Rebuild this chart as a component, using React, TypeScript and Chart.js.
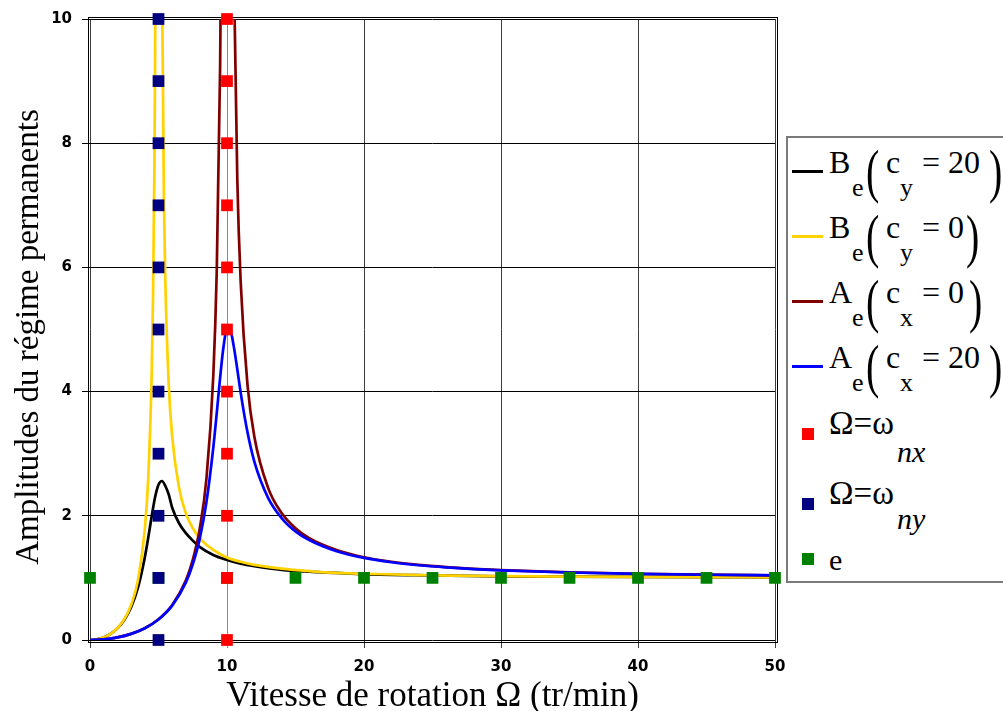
import React, { useEffect, useRef } from 'react';
import { Chart, registerables } from 'chart.js';

Chart.register(...registerables);

// ---- data ----
const xBe20 = [0, 0.5, 1, 1.5, 2, 2.5, 3, 3.5, 4, 4.25, 4.5, 4.75, 5, 5.25, 5.5, 5.75, 6, 6.5, 7, 7.5, 8, 9, 10, 11, 12, 14, 16, 18, 20, 25, 30, 35, 40, 45, 50];
const yBe20 = [0, 0.01, 0.042, 0.098, 0.187, 0.322, 0.527, 0.842, 1.33, 1.646, 1.99, 2.3, 2.5, 2.56, 2.48, 2.34, 2.13, 1.88, 1.72, 1.6, 1.5, 1.37, 1.29, 1.23, 1.19, 1.13, 1.1, 1.08, 1.06, 1.04, 1.026, 1.019, 1.015, 1.012, 1.009];

const xBe0 = [0, 0.5, 1, 1.5, 2, 2.5, 3, 3.5, 4, 4.25, 4.5, 4.6, 4.7, 4.75, 4.8, 5.2, 5.25, 5.4, 5.5, 5.75, 6, 6.5, 7, 7.5, 8, 9, 10, 11, 12, 14, 16, 18, 20, 25, 30, 35, 40, 45, 50];
const yBe0 = [0, 0.01, 0.042, 0.099, 0.19, 0.333, 0.563, 0.961, 1.78, 2.6, 4.26, 5.51, 7.59, 9.26, 11.8, 13.3, 10.8, 7.01, 5.76, 4.1, 3.27, 2.45, 2.04, 1.8, 1.64, 1.45, 1.33, 1.26, 1.21, 1.15, 1.11, 1.08, 1.067, 1.042, 1.029, 1.021, 1.016, 1.013, 1.01];

const xAe0 = [0, 1, 2, 3, 4, 5, 6, 7, 7.5, 8, 8.5, 9, 9.25, 9.5, 9.6, 10.4, 10.5, 10.75, 11, 11.5, 12, 13, 14, 15, 16, 18, 20, 22, 24, 26, 28, 30, 35, 40, 45, 50];
const yAe0 = [0, 0.01, 0.042, 0.099, 0.19, 0.333, 0.563, 0.961, 1.29, 1.78, 2.6, 4.26, 5.93, 9.26, 11.8, 13.3, 10.8, 7.43, 5.76, 4.1, 3.27, 2.45, 2.04, 1.8, 1.64, 1.45, 1.333, 1.26, 1.21, 1.174, 1.146, 1.125, 1.089, 1.067, 1.052, 1.042];

const xAe20 = [0, 1, 2, 3, 4, 5, 6, 7, 7.5, 8, 8.5, 9, 9.25, 9.5, 9.75, 10, 10.25, 10.5, 10.75, 11, 11.5, 12, 13, 14, 15, 16, 18, 20, 22, 24, 26, 28, 30, 35, 40, 45, 50];
const yAe20 = [0, 0.01, 0.042, 0.099, 0.19, 0.33, 0.553, 0.927, 1.22, 1.62, 2.22, 3.1, 3.65, 4.23, 4.73, 5.0, 4.98, 4.72, 4.36, 3.98, 3.34, 2.87, 2.29, 1.96, 1.75, 1.61, 1.43, 1.322, 1.252, 1.204, 1.169, 1.142, 1.122, 1.087, 1.065, 1.051, 1.041];

const omegaNx = 10;
const omegaNy = 5;
const markLevels = [0, 1, 2, 3, 4, 5, 6, 7, 8, 9, 10];
const xE = [0, 5, 10, 15, 20, 25, 30, 35, 40, 45, 50];
const yE = 1;

const xTitle = 'Vitesse de rotation Ω (tr/min)';
const yTitle = 'Amplitudes du régime permanents';

const pts = (xs: number[], ys: number[]) => xs.map((x, i) => ({ x, y: ys[i] }));

const SERIF = '"Liberation Serif", "Times New Roman", serif';
const SANS = '"DejaVu Sans", sans-serif';

const framePlugin = {
  id: 'frame',
  beforeDatasetsDraw(chart: any) {
    const { ctx, chartArea } = chart;
    const { left, top, right, bottom } = chartArea;
    ctx.save();
    ctx.strokeStyle = '#000';
    ctx.lineWidth = 1;
    ctx.strokeRect(left - 1.5, top - 1.5, right + 2.5 - (left - 1.5), bottom + 2.5 - (top - 1.5));
    ctx.restore();
  },
};

const titlesPlugin = {
  id: 'axisTitles',
  afterDraw(chart: any) {
    const { ctx, chartArea } = chart;
    ctx.save();
    ctx.fillStyle = '#000';
    ctx.textBaseline = 'alphabetic';
    ctx.textAlign = 'center';
    ctx.font = `35px ${SERIF}`;
    ctx.fillText(xTitle, (chartArea.left + chartArea.right) / 2, 706);
    ctx.translate(38, 337);
    ctx.rotate(-Math.PI / 2);
    ctx.font = `33px ${SERIF}`;
    ctx.fillText(yTitle, 0, 0);
    ctx.restore();
  },
};

function Txt({ x, b, s, it, c }: { x: number; b: number; s: number; it?: boolean; c: string }) {
  return (
    <span
      style={{
        position: 'absolute',
        left: x,
        top: b - 0.8375 * s,
        fontFamily: SERIF,
        fontSize: s,
        lineHeight: `${s}px`,
        fontStyle: it ? 'italic' : 'normal',
        whiteSpace: 'pre',
        color: '#000',
      }}
    >
      {c}
    </span>
  );
}

// tall thin parenthesis: ink centred on `mid`, stretched vertically
function Paren({ x, mid, c }: { x: number; mid: number; c: string }) {
  const s = 40;
  const b = mid + 0.2585 * s;
  return (
    <span
      style={{
        position: 'absolute',
        left: x,
        top: b - 0.8375 * s,
        fontFamily: SERIF,
        fontSize: s,
        lineHeight: `${s}px`,
        whiteSpace: 'pre',
        color: '#000',
        transform: 'scaleY(1.49)',
        transformOrigin: `50% ${0.579 * s}px`,
      }}
    >
      {c}
    </span>
  );
}

const lineEntries = [
  { color: '#000000', main: 'B', sub: 'y', rhs: '= 20', close: 989 },
  { color: '#FFD200', main: 'B', sub: 'y', rhs: '= 0', close: 966 },
  { color: '#800000', main: 'A', sub: 'x', rhs: '= 0', close: 969 },
  { color: '#0000FF', main: 'A', sub: 'x', rhs: '= 20', close: 989 },
];

function Legend() {
  const items: React.ReactNode[] = [];
  lineEntries.forEach((e, i) => {
    const b = 173 + 65 * i;
    items.push(
      <div key={'l' + i} style={{ position: 'absolute', left: 792, top: b - 3.5, width: 31, height: 3, background: e.color }} />,
      <Txt key={'m' + i} x={829} b={b} s={32} c={e.main} />,
      <Txt key={'e' + i} x={852} b={b + 24} s={26} c="e" />,
      <Paren key={'p' + i} x={866} mid={b + 3} c="(" />,
      <Txt key={'c' + i} x={886} b={b} s={32} c="c" />,
      <Txt key={'s' + i} x={900} b={b + 24} s={26} c={e.sub} />,
      <Txt key={'r' + i} x={922} b={b} s={32} c={e.rhs} />,
      <Paren key={'q' + i} x={e.close} mid={b + 3} c=")" />
    );
  });
  const marks = [
    { color: '#FF0000', top: 428, b: 435, sub: 'nx', sb: 462 },
    { color: '#000080', top: 498, b: 505, sub: 'ny', sb: 529 },
  ];
  marks.forEach((m, i) => {
    items.push(
      <div key={'k' + i} style={{ position: 'absolute', left: 802, top: m.top, width: 12, height: 12, background: m.color }} />,
      <Txt key={'o' + i} x={829} b={m.b} s={33} c="Ω=ω" />,
      <Txt key={'n' + i} x={897} b={m.sb} s={30} it c={m.sub} />
    );
  });
  items.push(
    <div key="g" style={{ position: 'absolute', left: 802, top: 553, width: 12, height: 12, background: '#008000' }} />,
    <Txt key="ge" x={829} b={570} s={30} c="e" />
  );
  return (
    <>
      <div
        style={{
          position: 'absolute',
          left: 786,
          top: 136,
          width: 240,
          height: 447,
          border: '2px solid #7a7a7a',
          boxSizing: 'border-box',
          background: '#fff',
        }}
      />
      {items}
    </>
  );
}

export default function App() {
  const ref = useRef<HTMLCanvasElement | null>(null);

  useEffect(() => {
    if (!ref.current) return;
    const lineDs = (label: string, xs: number[], ys: number[], color: string, order: number) => ({
      label,
      data: pts(xs, ys),
      showLine: true,
      borderColor: color,
      backgroundColor: color,
      borderWidth: 2.7,
      pointRadius: 0,
      cubicInterpolationMode: 'monotone' as const,
      order,
    });
    const markDs = (label: string, data: { x: number; y: number }[], color: string) => ({
      label,
      data,
      showLine: false,
      pointStyle: 'rect' as const,
      pointRadius: 8.3,
      pointBorderWidth: 0,
      backgroundColor: color,
      borderColor: color,
      clip: false as const,
      order: 0,
    });
    const chart = new Chart(ref.current, {
      type: 'scatter',
      data: {
        datasets: [
          markDs('Ω=ωnx', markLevels.map((y) => ({ x: omegaNx, y })), '#FF0000'),
          markDs('Ω=ωny', markLevels.map((y) => ({ x: omegaNy, y })), '#000080'),
          markDs('e', xE.map((x) => ({ x, y: yE })), '#008000'),
          lineDs('Ae(cx = 20)', xAe20, yAe20, '#0000FF', 1),
          lineDs('Ae(cx = 0)', xAe0, yAe0, '#800000', 2),
          lineDs('Be(cy = 0)', xBe0, yBe0, '#FFD200', 3),
          lineDs('Be(cy = 20)', xBe20, yBe20, '#000000', 4),
        ] as any,
      },
      options: {
        responsive: false,
        animation: false,
        layout: { padding: { left: 0, top: 18, right: 228, bottom: 0 } },
        plugins: { legend: { display: false }, tooltip: { enabled: false } },
        scales: {
          x: {
            type: 'linear',
            min: 0,
            max: 50,
            afterFit: (s: any) => {
              s.height = 71;
            },
            ticks: {
              stepSize: 10,
              color: '#000',
              padding: 10,
              maxRotation: 0,
              font: { family: SANS, size: 15, weight: 'bold' },
            },
            grid: {
              color: (c: any) => (c.tick && c.tick.value === 10 ? '#8c8c8c' : '#3c3c3c'),
              lineWidth: 1,
              tickLength: 8,
            },
            border: { display: false },
          },
          y: {
            type: 'linear',
            min: 0,
            max: 10,
            afterFit: (s: any) => {
              s.width = 90;
            },
            ticks: {
              stepSize: 2,
              color: '#000',
              padding: 10,
              font: { family: SANS, size: 15, weight: 'bold' },
            },
            grid: { color: '#000', lineWidth: 1, tickLength: 8 },
            border: { display: false },
          },
        },
      } as any,
      plugins: [framePlugin, titlesPlugin],
    });
    return () => chart.destroy();
  }, []);

  return (
    <div
      style={{
        position: 'fixed',
        left: 0,
        top: 0,
        width: 1003,
        height: 711,
        overflow: 'hidden',
        background: '#fff',
      }}
    >
      <canvas ref={ref} width={1003} height={711} style={{ position: 'absolute', left: 0, top: 0, width: 1003, height: 711 }} />
      <Legend />
    </div>
  );
}
